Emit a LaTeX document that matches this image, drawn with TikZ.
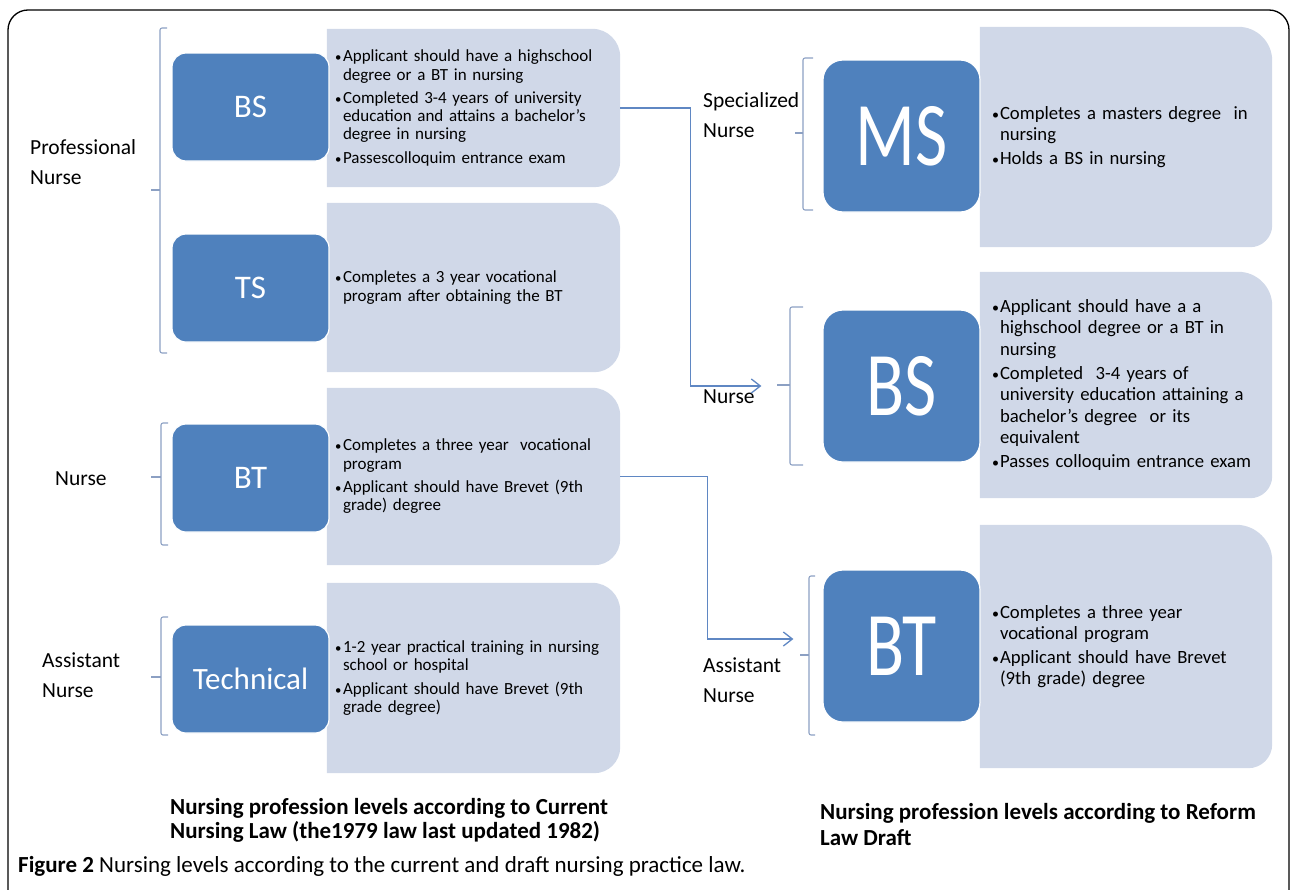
\documentclass[tikz,border=0pt]{standalone}
\usepackage{fontspec}
\setmainfont{Carlito}
\usepackage{graphicx}
\usepackage{tikz}
\usetikzlibrary{arrows.meta,backgrounds}
\definecolor{levelblue}{RGB}{79,129,189}
\definecolor{levelgray}{RGB}{208,216,232}
\definecolor{bracegray}{RGB}{140,160,195}
\definecolor{linkblue}{RGB}{95,135,195}
\newcommand{\bul}{\makebox[8pt][l]{\scalebox{0.75}{\textbullet}}}
\newcommand{\ind}{\hspace*{8pt}}
\tikzset{%
  every level/.style={
    rectangle,
    rounded corners=14pt,
    fill=levelblue,
    draw=white,
    line width=1.2pt,
    text=white,
    minimum width=157pt,
    minimum height=108pt,
    inner sep=0pt,
    font=\fontsize{33}{33}\selectfont
  },
  big level/.style={
    every level,
    rounded corners=20pt,
    minimum height=152pt
  },
  detail/.style={
    rectangle,
    minimum width=293pt,
    text width=277pt,
    align=left,
    inner xsep=8pt,
    inner ysep=0pt,
    font=\fontsize{17}{18.3}\selectfont
  },
  big detail/.style={
    detail,
    minimum width=292pt,
    text width=268pt,
    inner xsep=12pt,
    font=\fontsize{18.7}{21.4}\selectfont
  },
  group label/.style={
    align=left,
    anchor=west,
    inner sep=0pt,
    font=\fontsize{21.5}{30}\selectfont
  },
}

\begin{document}
\begin{tikzpicture}[x=1pt,y=-1pt]
    \tikzstyle{brace}=[draw=bracegray,line width=1.1pt,rounded corners=2pt]
    \tikzstyle{level link}=[draw=linkblue,line width=1.3pt,-{Straight Barb[length=9pt,width=14pt]}]
    \useasboundingbox (0,0) rectangle (1292,889);
    \draw[line width=1.3pt,rounded corners=20pt] (8,960) -- (8,10) -- (1289,10) -- (1289,960);

    % current law
    \node[detail,minimum height=158pt] (g1) at (473.5,108) {\bul Applicant should have a highschool\\ \ind degree or a BT in nursing\\[5pt] \bul Completed 3-4 years of university\\ \ind education and attains a bachelor's\\ \ind degree in nursing\\[5pt] \bul Passescolloquim entrance exam};
    \node[detail,minimum height=169pt] (g2) at (473.5,287.5) {\bul Completes a 3 year vocational\\ \ind program after obtaining the BT};
    \node[detail,minimum height=177pt] (g3) at (473.5,476.5) {\bul Completes a three year\ \ vocational\\ \ind program\\[5pt] \bul Applicant should have Brevet (9th\\ \ind grade) degree};
    \node[detail,minimum height=190pt] (g4) at (473.5,678) {\bul 1-2 year practical training in nursing\\ \ind school or hospital\\[5pt] \bul Applicant should have Brevet (9th\\ \ind grade degree)};

    \node[every level] (bs1) at (250.5,107) {BS};
    \node[every level] (ts1) at (250.5,288) {TS};
    \node[every level] (bt1) at (250.5,478) {BT};
    \node[every level,font=\fontsize{31}{31}\selectfont] (tech1) at (250.5,679) {Technical};

    \node[group label] (prof) at (30,162) {Professional\\Nurse};
    \node[group label] (nurse1) at (55,479) {Nurse};
    \node[group label] (asst1) at (42,675) {Assistant\\Nurse};

    \draw[brace] (167,28) -- (160,28) -- (160,353) -- (167,353);
    \draw[brace] (160,190) -- (151,190);
    \draw[brace] (168,423) -- (161,423) -- (161,545) -- (168,545);
    \draw[brace] (161,477) -- (151,477);
    \draw[brace] (168,617) -- (161,617) -- (161,735) -- (168,735);
    \draw[brace] (161,677) -- (151,677);

    % reform draft
    \node[big detail,minimum height=220pt] (gm) at (1126,137) {\bul Completes a masters degree\ \ in\\ \ind nursing\\[2.5pt] \bul Holds a BS in nursing};
    \node[big detail,minimum height=226pt] (gb) at (1126,385) {\bul Applicant should have a a\\ \ind highschool degree or a BT in\\ \ind nursing\\[2.5pt] \bul Completed\ \ 3-4 years of\\ \ind university education attaining a\\ \ind bachelor's degree\ \ or its\\ \ind equivalent\\[2.5pt] \bul Passes colloquim entrance exam};
    \node[big detail,minimum height=243pt] (gt) at (1126,646.5) {\bul Completes a three year\\ \ind vocational program\\[2.5pt] \bul Applicant should have Brevet\\ \ind (9th grade) degree};

    \node[big level] (ms) at (901.5,136) {\scalebox{1}[1.3]{\fontsize{70}{70}\selectfont MS}};
    \node[big level] (bs2) at (901.5,386) {\scalebox{1}[1.3]{\fontsize{70}{70}\selectfont BS}};
    \node[big level] (bt2) at (901.5,646) {\scalebox{1}[1.3]{\fontsize{70}{70}\selectfont BT}};

    \node[group label] (spec) at (703,115) {Specialized\\Nurse};
    \node[group label] (nurse2) at (703,397) {Nurse};
    \node[group label] (asst2) at (703,680) {Assistant\\Nurse};

    \draw[brace] (813,58) -- (803,58) -- (803,210) -- (813,210);
    \draw[brace] (803,133) -- (795,133);
    \draw[brace] (803,307) -- (790,307) -- (790,465) -- (803,465);
    \draw[brace] (790,385) -- (777,385);
    \draw[brace] (815,576) -- (809,576) -- (809,735) -- (815,735);
    \draw[brace] (809,655) -- (800,655);

    \begin{pgfonlayer}{background}
      \foreach \g/\rt/\rb in {g1/28/26,g2/28/26,g3/28/26,g4/28/26,gm/34/22,gb/34/22,gt/36/24}
        \fill[levelgray] (\g.south west) -- (\g.north west) -- ([xshift=-\rt pt]\g.north east)
          arc[start angle=90,end angle=0,radius=\rt pt] -- ([yshift=\rb pt]\g.south east)
          arc[start angle=0,end angle=-90,radius=\rb pt] -- cycle;
    \end{pgfonlayer}

    \draw[level link] (g1.east) -- ++(70,0) |- ([xshift=-61pt]bs2.west);
    \draw[level link] (g3.east) -- ++(87,0) |- ([xshift=-29pt,yshift=7pt]bt2.west);

    % captions
    \node[group label,font=\bfseries\fontsize{23}{24}\selectfont] (cap1) at (170,820) {Nursing profession levels according to Current\\Nursing Law (the1979 law last updated 1982)};
    \node[group label,font=\bfseries\fontsize{23}{26}\selectfont] (cap2) at (820,825) {Nursing profession levels according to Reform\\Law Draft};
    \node[group label,font=\fontsize{23}{24}\selectfont] (fig) at (18,866) {\textbf{Figure 2} Nursing levels according to the current and draft nursing practice law.};
\end{tikzpicture}
\end{document}
